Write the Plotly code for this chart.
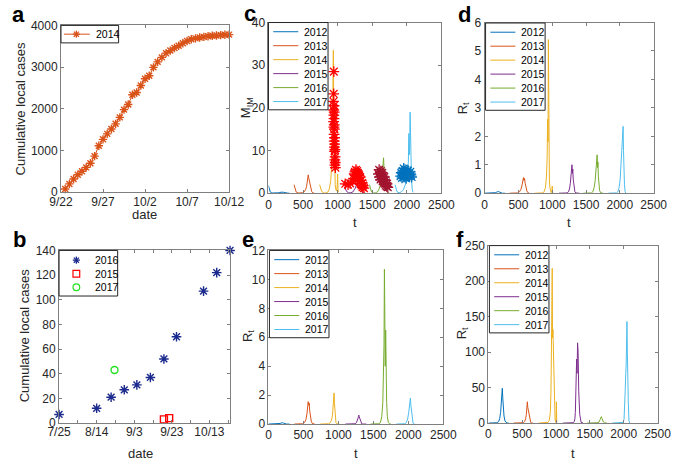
import plotly.graph_objects as go

W, H = 685, 465

# ---------------- panel a : cumulative local cases 2014 (days after 9/22)
a_day = [0.5, 1, 1.5, 2, 2.5, 3, 3.5, 4, 4.5, 5, 5.5, 6, 6.5, 7, 7.5, 8, 8.5, 9, 9.5, 10,
         10.5, 11, 11.5, 12, 12.5, 13, 13.5, 14, 14.5, 15, 15.5, 16, 16.5, 17, 17.5, 18,
         18.5, 19, 19.5, 20]
a_cases = [77, 200, 317, 418, 503, 596, 696, 866, 1114, 1269, 1400, 1516, 1640, 1795, 1981,
           2104, 2337, 2391, 2561, 2723, 2793, 2994, 3126, 3234, 3335, 3397, 3458, 3512,
           3574, 3628, 3667, 3690, 3710, 3725, 3740, 3752, 3760, 3768, 3775, 3780]
a_tickvals = [0, 5, 10, 15, 20]
a_ticktext = ['9/22', '9/27', '10/2', '10/7', '10/12']

# ---------------- panel b : cumulative local cases (days after 7/25)
b16_day = [0, 20, 27.7, 34.7, 41.4, 48.6, 55.8, 62.5, 76.9, 83.9, 91]
b16_cases = [7, 12, 21, 27, 31, 37, 52, 70, 107, 122, 140]
b15_day = [55.8, 58.6]
b15_cases = [3, 4]
b17_day = [29.5]
b17_cases = [43]
b_tickvals = [0, 20, 40, 60, 80]
b_ticktext = ['7/25', '8/14', '9/3', '9/23', '10/13']
b_minor = [10, 30, 50, 70, 90]

# ---------------- panels c-f : time grids per season
years = [2012, 2013, 2014, 2015, 2016, 2017]
year_colors = ['#0072BD', '#D95319', '#EDB120', '#7E2F8E', '#77AC30', '#4DBEEE']

t_grid = {
    2012: [0, 25, 50, 75, 100, 125, 150, 165, 180, 190, 198, 205, 212, 220, 230, 245, 260, 280, 300],
    2013: [370, 400, 430, 460, 490, 515, 535, 550, 560, 568, 575, 582, 590, 600, 612, 625, 640, 660],
    2014: [740, 770, 800, 830, 860, 880, 900, 915, 925, 932, 938, 943, 948, 953, 958, 965, 975,
           985, 995, 1000, 1005, 1010],
    2015: [1100, 1130, 1160, 1190, 1220, 1240, 1255, 1268, 1278, 1285, 1292, 1298, 1304, 1310,
           1318, 1326, 1335, 1350, 1370, 1400],
    2016: [1460, 1490, 1520, 1550, 1580, 1600, 1620, 1635, 1645, 1652, 1658, 1664, 1670, 1676,
           1682, 1690, 1700, 1715, 1730, 1750],
    2017: [1830, 1860, 1890, 1920, 1950, 1970, 1990, 2005, 2015, 2022, 2030, 2036, 2042, 2048,
           2054, 2060, 2068, 2078, 2090],
}

# panel c : M_IM
m_im = {
    2012: [1.8, 0.3, 0.05, 0.02, 0.02, 0.05, 0.1, 0.2, 0.25, 0.3, 0.3, 0.28, 0.25, 0.2, 0.15, 0.1,
           0.05, 0.02, 0.01],
    2013: [2.0, 0.3, 0.05, 0.02, 0.1, 0.3, 0.8, 1.5, 2.5, 3.5, 4.3, 3.6, 3.0, 2.0, 1.0, 0.4, 0.1, 0.02],
    2014: [2.0, 0.4, 0.05, 0.05, 0.3, 1.0, 3, 7, 14, 22, 33.5, 20, 12, 8, 5, 2, 0.8, 0.5, 2, 4.5, 1, 0.2],
    2015: [1.5, 0.4, 0.1, 0.1, 0.3, 0.7, 1.2, 1.8, 2.3, 2.6, 2.8, 2.7, 2.5, 2.2, 1.8, 1.3, 0.8, 0.3,
           0.1, 0.02],
    2016: [2.0, 0.3, 0.05, 0.1, 0.4, 1.0, 2, 3.5, 5, 6, 7, 8.3, 6, 5, 4, 2.5, 1.2, 0.4, 0.1, 0.02],
    2017: [2.0, 0.3, 0.1, 0.3, 0.8, 1.5, 2.5, 3.5, 5, 7, 14, 9, 12, 19, 10, 6, 3, 1, 0.2],
}
# observed M_IM estimates (stars)
obs14_t = [945, 943, 940, 947, 943, 950, 945, 948, 942, 951, 946, 953, 949, 955, 951, 957, 953,
           960, 956, 963, 959, 965, 961, 967]
obs14_m = [28.5, 23.3, 21.5, 20.5, 19.5, 19, 18.3, 17.5, 16.8, 16, 15.5, 15, 13.8, 13, 12.2, 11.5,
           10.8, 10.2, 9.8, 8.5, 7.8, 7.2, 6.6, 6.0]
obs15_t = [1110, 1150, 1180, 1230, 1240, 1250, 1255, 1265, 1270, 1280, 1285, 1290, 1300, 1305,
           1310, 1315, 1325, 1330, 1340, 1345, 1355, 1360, 1370, 1380]
obs15_m = [2.2, 2.0, 2.3, 3.5, 4.5, 5.0, 3.2, 5.5, 4.0, 5.2, 3.0, 4.8, 4.5, 3.5, 4.2, 2.8, 3.8,
           2.2, 3.0, 1.8, 2.4, 1.4, 1.8, 1.2]
obs16_t = [1590, 1600, 1605, 1615, 1620, 1625, 1630, 1640, 1645, 1650, 1655, 1660, 1670, 1675,
           1680, 1690, 1695, 1700, 1710, 1715, 1725]
obs16_m = [4.5, 5.5, 3.8, 4.8, 3.2, 5.2, 4.2, 3.6, 4.8, 2.8, 4.0, 3.2, 2.5, 3.8, 2.2, 3.0, 1.8,
           2.5, 1.6, 2.2, 1.4]
obs17_t = [1910, 1920, 1930, 1940, 1945, 1955, 1960, 1970, 1975, 1985, 1990, 2000, 2005, 2015,
           2020, 2030, 2040, 2050, 2060, 2070]
obs17_m = [4.0, 4.8, 3.6, 5.2, 4.3, 5.8, 3.8, 4.9, 5.5, 4.2, 3.5, 5.0, 4.4, 5.3, 3.9, 4.6, 4.0,
           5.0, 4.3, 3.8]

# panel d : R_t
rt_d = {
    2012: [0, 0, 0, 0, 0, 0, 0.01, 0.02, 0.04, 0.05, 0.07, 0.06, 0.05, 0.04, 0.02, 0.01, 0, 0, 0],
    2013: [0, 0, 0, 0, 0.01, 0.05, 0.12, 0.25, 0.38, 0.5, 0.55, 0.45, 0.52, 0.35, 0.2, 0.08, 0.02, 0],
    2014: [0, 0, 0, 0, 0.01, 0.05, 0.2, 0.6, 1.3, 2.6, 1.8, 5.4, 2.2, 1.0, 0.5, 0.2, 0.05, 0.02,
           0.1, 0.25, 0.05, 0],
    2015: [0, 0, 0, 0, 0.01, 0.05, 0.15, 0.35, 0.6, 0.8, 1.0, 0.7, 0.85, 0.5, 0.3, 0.15, 0.05, 0.01, 0, 0],
    2016: [0, 0, 0, 0, 0.01, 0.05, 0.2, 0.45, 0.8, 1.0, 1.2, 1.35, 0.9, 1.1, 0.6, 0.3, 0.1, 0.02, 0, 0],
    2017: [0, 0, 0, 0, 0.01, 0.05, 0.2, 0.5, 0.9, 1.3, 1.75, 1.6, 2.0, 2.35, 1.5, 0.8, 0.3, 0.05, 0],
}
# panel e : R_t
rt_e = {
    2012: [0, 0, 0, 0, 0, 0.01, 0.02, 0.04, 0.07, 0.09, 0.1, 0.09, 0.07, 0.05, 0.03, 0.01, 0, 0, 0],
    2013: [0, 0, 0, 0, 0.02, 0.1, 0.3, 0.7, 1.1, 1.55, 1.3, 1.45, 0.9, 0.5, 0.2, 0.05, 0.01, 0],
    2014: [0, 0, 0, 0, 0.02, 0.08, 0.25, 0.6, 1.1, 1.6, 2.15, 1.5, 1.0, 0.6, 0.3, 0.1, 0.03, 0.01,
           0, 0, 0, 0],
    2015: [0, 0, 0, 0, 0, 0.02, 0.08, 0.2, 0.35, 0.5, 0.62, 0.5, 0.4, 0.25, 0.12, 0.05, 0.01, 0, 0, 0],
    2016: [0, 0, 0, 0, 0.02, 0.1, 0.5, 1.5, 3.4, 5.5, 10.7, 6.4, 4.0, 6.5, 2.9, 1.5, 0.5, 0.1, 0.02, 0],
    2017: [0, 0, 0, 0, 0.02, 0.1, 0.35, 0.8, 1.2, 1.5, 1.8, 1.3, 1.0, 0.7, 0.35, 0.15, 0.05, 0.01, 0],
}
# panel f : R_t
rt_f = {
    2012: [0, 0, 0, 0, 0.1, 0.5, 2, 6, 15, 28, 42, 49, 35, 22, 10, 3, 1, 0.2, 0],
    2013: [0, 0, 0, 0, 0.1, 0.5, 2, 6, 12, 20, 30, 22, 17, 10, 4, 1, 0.2, 0],
    2014: [0, 0, 0, 0, 0.2, 1, 4, 15, 45, 90, 150, 218, 120, 132, 115, 70, 25, 5, 1, 2, 30, 0],
    2015: [0, 0, 0, 0, 0, 0.1, 0.5, 2, 6, 15, 35, 60, 90, 70, 113, 100, 45, 12, 1, 0],
    2016: [0, 0, 0, 0, 0, 0.1, 0.5, 1.5, 3, 5, 7, 8.5, 9, 7, 5, 3, 1.5, 0.5, 0.1, 0],
    2017: [0, 0, 0, 0, 0, 0.2, 1, 5, 20, 45, 70, 80, 110, 143, 100, 40, 30, 3, 0],
}

FONT = 'Liberation Sans, Arial, sans-serif'
AX = '#7f7f7f'
TXT = '#262626'
STAR = 'asterisk-open'

fig = go.Figure()

# panel a
fig.add_trace(go.Scatter(x=a_day, y=a_cases, mode='lines+markers', name='2014',
                         line=dict(color='#D95319', width=1),
                         marker=dict(symbol=STAR, size=7, color='#D95319',
                                     line=dict(color='#D95319', width=1.4)),
                         xaxis='x', yaxis='y', cliponaxis=False))

# panel b
b_series = [(b16_day, b16_cases, '2016', STAR, '#1B2A8C', 8),
            (b15_day, b15_cases, '2015', 'square-open', '#FF0000', 7),
            (b17_day, b17_cases, '2017', 'circle-open', '#22E022', 7)]
for d, c, nm, sym, col, sz in b_series:
    fig.add_trace(go.Scatter(x=d, y=c, mode='markers', name=nm,
                             marker=dict(symbol=sym, size=sz, color=col, line=dict(color=col, width=1.4)),
                             xaxis='x2', yaxis='y2', cliponaxis=False))

# panels c-f lines
panels = [(m_im, 'x3', 'y3'), (rt_d, 'x4', 'y4'), (rt_e, 'x5', 'y5'), (rt_f, 'x6', 'y6')]
for vals, xa, ya in panels:
    for yr, col in zip(years, year_colors):
        fig.add_trace(go.Scatter(x=t_grid[yr], y=vals[yr], mode='lines', name=str(yr),
                                 line=dict(color=col, width=1), xaxis=xa, yaxis=ya))

# observed stars on panel c
for tt, mm, col in [(obs14_t, obs14_m, '#FF0000'), (obs15_t, obs15_m, '#FF0000'),
                    (obs16_t, obs16_m, '#A2142F'), (obs17_t, obs17_m, '#0072BD')]:
    fig.add_trace(go.Scatter(x=tt, y=mm, mode='markers',
                             marker=dict(symbol=STAR, size=9, color=col, line=dict(color=col, width=1.3)),
                             xaxis='x3', yaxis='y3'))


def axis(dom, anchor, **kw):
    d = dict(domain=dom, anchor=anchor, showline=True, linecolor=AX, linewidth=1, mirror='ticks',
             ticks='inside', ticklen=3, tickcolor=AX, showgrid=False, zeroline=False,
             tickfont=dict(family=FONT, size=12, color=TXT))
    d.update(kw)
    return d


def xd(x0, x1):
    return [x0 / W, x1 / W]


def yd(y0, y1):
    return [1 - y1 / H, 1 - y0 / H]


t_ticks = dict(range=[0, 2500], tickvals=[0, 500, 1000, 1500, 2000, 2500])
xs = dict(ticklabelstandoff=-2)

fig.update_layout(
    width=W, height=H, margin=dict(l=0, r=0, t=0, b=0), showlegend=False,
    paper_bgcolor='white', plot_bgcolor='white',
    font=dict(family=FONT, color=TXT),
    xaxis=axis(xd(51, 226), 'y', range=[0, 20], tickvals=a_tickvals, ticktext=a_ticktext, **xs),
    yaxis=axis(yd(19, 191), 'x', range=[0, 4000], dtick=1000),
    xaxis2=axis(xd(49, 227), 'y2', range=[0, 91], tickvals=b_tickvals, ticktext=b_ticktext,
                minor=dict(tickvals=b_minor, ticks='inside', ticklen=3, tickcolor=AX, showgrid=False),
                **xs),
    yaxis2=axis(yd(251, 429), 'x2', range=[0, 140], dtick=20),
    xaxis3=axis(xd(267, 447), 'y3', **t_ticks),
    yaxis3=axis(yd(16, 192), 'x3', range=[0, 40], dtick=10),
    xaxis4=axis(xd(492, 668), 'y4', **t_ticks),
    yaxis4=axis(yd(16, 192), 'x4', range=[0, 6], dtick=1),
    xaxis5=axis(xd(267, 449), 'y5', **t_ticks),
    yaxis5=axis(yd(251, 430), 'x5', range=[0, 12], dtick=2),
    xaxis6=axis(xd(496, 672), 'y6', **t_ticks),
    yaxis6=axis(yd(246, 429), 'x6', range=[0, 250], dtick=50),
)


def P(x, y):
    return x / W, 1 - y / H


def text(s, x, y, size=13, angle=0, anchor='center', bold=False, color=TXT):
    px, py = P(x, y)
    fig.add_annotation(text='<b>%s</b>' % s if bold else s, x=px, y=py, xref='paper', yref='paper',
                       xanchor=anchor, yanchor='middle', showarrow=False, textangle=angle,
                       font=dict(family=FONT, size=size, color=color))


def seg(x0, y0, x1, y1, col, w=1.0):
    a, b = P(x0, y0)
    c, d = P(x1, y1)
    fig.add_shape(type='line', xref='paper', yref='paper', x0=a, y0=b, x1=c, y1=d,
                  line=dict(color=col, width=w))


def box(x0, y0, x1, y1):
    a, b = P(x0, y0)
    c, d = P(x1, y1)
    fig.add_shape(type='rect', xref='paper', yref='paper', x0=a, y0=b, x1=c, y1=d,
                  fillcolor='white', line=dict(color='#262626', width=1))


def star(cx, cy, col, r=3.7):
    k = r * 0.71
    seg(cx - r, cy, cx + r, cy, col, 1.3)
    seg(cx, cy - r, cx, cy + r, col, 1.3)
    seg(cx - k, cy - k, cx + k, cy + k, col, 1.3)
    seg(cx - k, cy + k, cx + k, cy - k, col, 1.3)


def shape_marker(kind, cx, cy, col, r=3.5):
    a, b = P(cx - r, cy - r)
    c, d = P(cx + r, cy + r)
    fig.add_shape(type=kind, xref='paper', yref='paper', x0=a, y0=b, x1=c, y1=d,
                  line=dict(color=col, width=1.2))


# legend a
box(51, 19, 111, 37)
seg(54, 28, 81, 28, '#D95319')
star(67, 28, '#D95319')
text('2014', 85, 28, size=10.5, anchor='left', color='#000')

# legend b
box(49, 251, 110, 298)
star(67, 261, '#1B2A8C')
shape_marker('rect', 67, 275, '#FF0000')
shape_marker('circle', 67, 289, '#22E022')
for lab, yy in [('2016', 261), ('2015', 275), ('2017', 289)]:
    text(lab, 84, yy, size=10.5, anchor='left', color='#000')

# legends c-f
for L, T in [(267, 16), (493, 16.5), (268, 251), (497, 246)]:
    box(L, T, L + 62, T + 90)
    for i, (yr, col) in enumerate(zip(years, year_colors)):
        yy = T + 9.5 + 14.4 * i
        seg(L + 5, yy, L + 31, yy, col)
        text(str(yr), L + 35, yy, size=10.5, anchor='left', color='#000')

# axis titles
text('Cumulative local cases', 9, 105, angle=-90)
text('date', 138, 214)
text('Cumulative local cases', 13, 339, angle=-90)
text('date', 134, 460)
text('M<sub>IM</sub>', 245, 104, angle=-90)
text('t', 357, 222)
text('R<sub>t</sub>', 470, 104, angle=-90)
text('t', 580, 222)
text('R<sub>t</sub>', 246, 339, angle=-90)
text('t', 358, 460)
text('R<sub>t</sub>', 469, 337, angle=-90)
text('t', 584, 460)

# panel letters
for s, x, y in [('a', 7, 8), ('b', 8, 240), ('c', 248, 7), ('d', 471, 8), ('e', 246, 240),
                ('f', 466, 240)]:
    text(s, x, y, size=22, bold=True, color='#000')

fig.write_html('out.html', config={'displayModeBar': False},
               post_script="document.body.style.margin='0';")
